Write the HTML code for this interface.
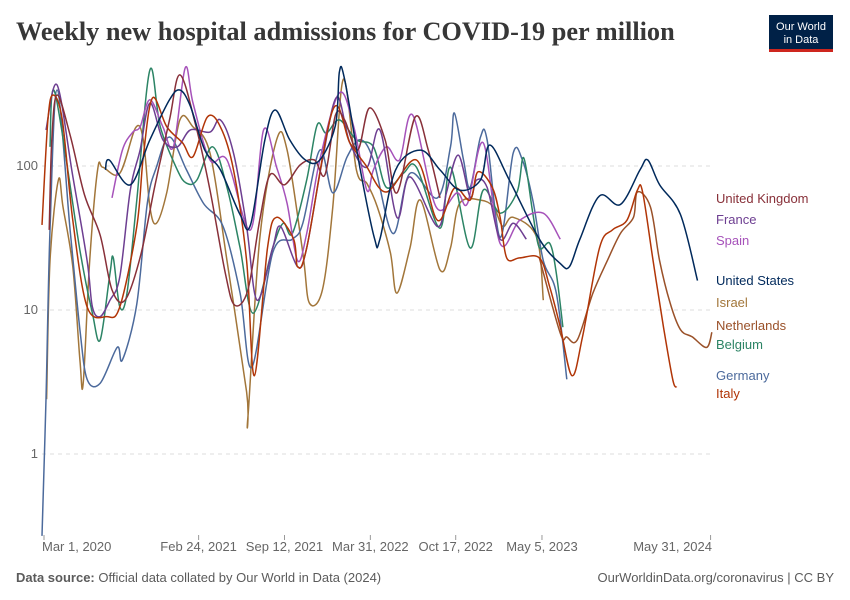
<!DOCTYPE html>
<html><head><meta charset="utf-8">
<style>
body{margin:0;background:#fff;width:850px;height:600px;overflow:hidden;font-family:"Liberation Sans",sans-serif}
svg{display:block}
</style></head>
<body>
<svg id="chart" width="850" height="600">
<text x="16" y="40" font-family="Liberation Serif,serif" font-weight="bold" font-size="26.3" fill="#373737">Weekly new hospital admissions for COVID-19 per million</text>
<g>
<rect x="769" y="15" width="64" height="37" fill="#002147"/>
<rect x="769" y="49" width="64" height="3" fill="#ce261e"/>
<text x="801" y="30" text-anchor="middle" font-size="11" fill="#fff">Our World</text>
<text x="801" y="43" text-anchor="middle" font-size="11" fill="#fff">in Data</text>
</g>
<g id="grid"></g>
<g id="yticks"></g>
<g id="xticks"></g>
<g id="lines"></g>
<g id="legend"></g>
<text x="16" y="582" font-size="13" fill="#5b5b5b"><tspan font-weight="bold">Data source:</tspan> Official data collated by Our World in Data (2024)</text>
<text x="834" y="582" text-anchor="end" font-size="13" fill="#5b5b5b">OurWorldinData.org/coronavirus | CC BY</text>
</svg>
<script>
// x values are months since Mar 1, 2020
const yTicks=[1,10,100];
const yTickLabels=["1","10","100"];
const xTickMonths=[0,11.83,18.4,24.97,31.5,38.1,51.0];
const xTickLabels=["Mar 1, 2020","Feb 24, 2021","Sep 12, 2021","Mar 31, 2022","Oct 17, 2022","May 5, 2023","May 31, 2024"];

const usM=[4.7,5.0,6.6,8.1,9.6,10.4,11.2,12.3,13.5,15.0,15.8,16.9,17.7,18.8,20.0,21.1,22.3,22.6,23.0,24.2,25.3,25.7,26.9,28.8,30.3,31.8,33.4,34.1,35.6,37.9,39.5,40.2,41.0,42.5,44.1,45.6,46.2,47.1,48.7,50.0];
const usV=[94,110,74,152,288,337,260,129,94,46,39,152,245,152,110,110,193,450,400,94,31,31,94,129,94,68,80,140,80,31,21,20,31,62,54,94,110,74,46,16];
const ukM=[0.4,0.6,1.0,2.0,3.1,4.3,5.2,6.2,7.4,8.5,9.6,10.4,11.6,12.7,13.9,14.6,15.6,16.5,17.3,18.4,19.6,20.7,21.5,22.3,23.0,24.0,24.9,26.1,27.0,28.4,29.4,30.3];
const ukV=[36,152,311,164,63,33,13.8,11.7,24,74,209,429,193,68,17.5,10.8,13.8,42,87,74,102,110,87,226,209,129,253,152,65,219,129,60];
const itM=[-0.15,0.3,0.7,1.4,2.2,3.3,4.8,5.8,7.1,7.6,8.3,9.4,10.6,11.4,12.5,13.5,14.5,15.5,16.1,17.1,17.8,19.1,19.4,20.1,22.1,23.4,24.6,26.2,28.5,30.1,31.4,32.6,33.2,34.3,34.9,35.4,36.4,37.9,38.7,39.5,40.4,41.2,42.5,43.5,44.6,45.4,45.8,46.6,47.4,48.1,48.4];
const itV=[39,209,311,209,42,10.5,9.0,10.5,38,116,297,187,145,116,219,187,94,22,3.5,27,44,31,20,27,245,145,102,66,110,42,70,58,91,71,44,23,23,23,14.4,7.6,3.5,6.5,27,36,42,68,66,22,7.6,3.3,2.9];
const nlM=[37.9,39.5,40.0,40.8,42.0,43.1,44.1,45.1,45.4,46.4,47.1,47.9,48.7,49.6,50.7,51.1];
const nlV=[23,6.9,6.5,6.2,13.1,22,34,44,66,52,22,11.2,7.3,6.5,5.5,7.0];
const deM=[-0.15,0.15,0.46,1.0,2.0,2.75,3.3,4.3,5.6,6.0,7.1,7.9,8.6,9.6,10.9,12.2,13.7,15.0,15.9,17.5,19.0,19.8,21.1,22.1,23.2,24.2,25.2,26.7,28.0,30.1,31.1,31.4,32.1,32.6,33.4,33.9,34.9,35.9,36.6,37.4,38.2,39.2,40.0];
const deV=[0.27,2.4,36,337,36,7.3,3.3,3.1,5.5,4.5,11.0,55,98,159,94,55,38,13.1,4.0,25,31,40,129,65,116,152,110,34,89,60,136,233,110,71,159,152,32,123,110,58,22,13.1,3.3];
const beM=[0.46,0.84,2.75,3.7,4.3,5.05,5.3,5.8,6.35,7.1,8.1,8.9,10.2,10.9,11.7,12.9,14.0,15.0,16.0,17.5,18.3,19.0,20.1,20.9,21.6,22.6,23.9,25.2,26.2,27.5,28.5,30.3,31.1,32.6,33.6,34.9,36.2,36.7,37.4,37.9,38.7,39.2,39.7];
const beV=[136,322,26,9.5,6.2,18,23,10.5,13.1,58,464,187,94,76,80,136,71,27,9.5,27,40,34,80,193,169,209,152,136,71,89,98,37,98,27,68,47,66,114,47,27,29,18,7.6];
const frM=[0.15,1.0,2.2,3.3,3.7,4.3,5.05,5.8,6.6,7.35,8.1,9.1,10.2,11.2,12.7,13.5,14.5,15.5,16.3,17.5,18.1,19.4,20.1,21.3,22.4,23.4,24.7,25.7,27.0,28.0,30.1,30.8,31.7,32.6,33.1,33.9,34.9,35.9,36.9];
const frV=[178,365,85,22,10.5,9.0,11.7,17,68,129,274,152,136,178,172,209,123,38,11.7,27,38,20,27,110,301,145,98,178,44,84,38,66,119,61,80,71,31,40,31];
const esM=[5.2,6.0,6.8,7.35,8.1,9.1,9.9,10.8,11.4,12.7,14.0,15.8,16.8,17.8,18.6,19.4,20.1,21.1,22.6,23.7,24.7,25.2,26.2,27.2,28.2,30.0,31.6,32.4,33.6,34.9,36.4,38.2,39.5];
const esV=[60,129,172,187,288,187,136,480,274,110,110,36,178,98,55,22,34,110,322,187,68,94,136,110,226,52,65,55,145,29,42,47,31];
const ilM=[0.2,0.46,1.1,1.45,2.2,2.75,3.0,3.5,4.1,4.5,5.8,7.0,7.6,8.1,8.6,9.4,10.4,11.4,12.7,14.0,15.5,15.6,16.5,17.8,18.6,19.8,20.3,21.3,22.1,22.9,23.9,24.7,25.5,26.5,27.0,28.0,28.8,30.3,31.1,31.8,33.4,34.4,35.1,35.9,37.7,38.2];
const ilV=[2.4,22,80,52,20,4.5,3.1,22,94,98,89,184,152,52,40,66,209,187,123,22,2.7,1.8,31,152,129,25,11.2,13.8,52,400,94,76,52,25,13.1,27,58,19,27,55,58,52,38,44,32,11.7];

const series=[
 {name:"Israel",m:ilM,v:ilV,c:"#a2763a",ly:303},
 {name:"Germany",m:deM,v:deV,c:"#4c6a9c",ly:376},
 {name:"Belgium",m:beM,v:beV,c:"#2c8465",ly:345},
 {name:"Spain",m:esM,v:esV,c:"#a652ba",ly:241},
 {name:"France",m:frM,v:frV,c:"#6d3e91",ly:220},
 {name:"Netherlands",m:nlM,v:nlV,c:"#9a5129",ly:326},
 {name:"Italy",m:itM,v:itV,c:"#b13507",ly:394},
 {name:"United Kingdom",m:ukM,v:ukV,c:"#883039",ly:199},
 {name:"United States",m:usM,v:usV,c:"#00295b",ly:281}
];
const NS="http://www.w3.org/2000/svg";
function xS(m){return 44+m*13.07;}
function yS(v){return 310-144*Math.log10(v/10);}
function mk(t,a,p){const e=document.createElementNS(NS,t);for(const k in a)e.setAttribute(k,a[k]);p.appendChild(e);return e;}
function smoothPath(P){
 let d='M'+P[0][0].toFixed(1)+','+P[0][1].toFixed(1);
 for(let i=0;i<P.length-1;i++){
  const p0=P[i-1]||P[i],p1=P[i],p2=P[i+1],p3=P[i+2]||p2;
  const c1x=p1[0]+(p2[0]-p0[0])/6,c1y=p1[1]+(p2[1]-p0[1])/6;
  const c2x=p2[0]-(p3[0]-p1[0])/6,c2y=p2[1]-(p3[1]-p1[1])/6;
  d+=' C'+c1x.toFixed(1)+','+c1y.toFixed(1)+' '+c2x.toFixed(1)+','+c2y.toFixed(1)+' '+p2[0].toFixed(1)+','+p2[1].toFixed(1);
 }
 return d;
}

const grid=document.getElementById('grid'),yt=document.getElementById('yticks');
yTicks.forEach((t,i)=>{
 const l=mk('line',{x1:42,x2:712,y1:yS(t),y2:yS(t),stroke:'#dddddd','stroke-dasharray':'4,4'},grid);
 
 
 const tx=mk('text',{x:38,y:yS(t)+4,'text-anchor':'end','font-size':13,fill:'#666'},yt);
 tx.textContent=yTickLabels[i];
 
 
});
const xt=document.getElementById('xticks');
xTickMonths.forEach((m,i)=>{
 const x=xS(m);
 const tk=mk('line',{x1:x,x2:x,y1:535,y2:540,stroke:'#999'},xt);
 
 
 const anchor=i===0?'start':(i===xTickMonths.length-1?'end':'middle');
 const tx=mk('text',{x:i===0?42:(i===xTickMonths.length-1?712:x),y:551,'text-anchor':anchor,'font-size':13,fill:'#666'},xt);
 tx.textContent=xTickLabels[i];
 
 
});
const lines=document.getElementById('lines'),leg=document.getElementById('legend');
series.forEach(s=>{
 const P=s.m.map((m,i)=>[xS(m),yS(s.v[i])]);
 const pl=mk('path',{d:smoothPath(P),fill:'none',stroke:s.c,'stroke-width':1.5,'stroke-linejoin':'round'},lines);
 
 
 const t=mk('text',{x:716,y:s.ly+4,'font-size':13,fill:s.c},leg);
 t.textContent=s.name;
 
 
});
</script>
</body></html>
